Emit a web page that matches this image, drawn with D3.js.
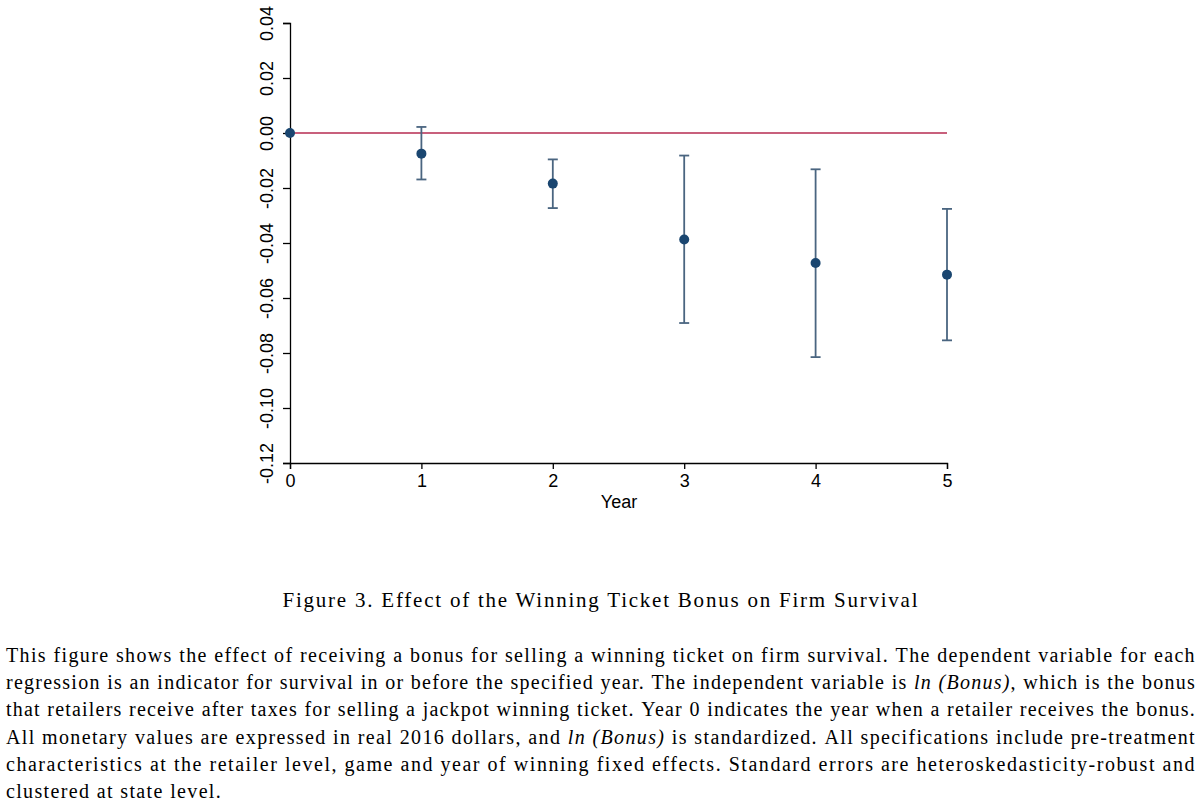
<!DOCTYPE html>
<html>
<head>
<meta charset="utf-8">
<script src="https://cdn.jsdelivr.net/npm/d3@7"></script>
<style>
  html, body { margin: 0; padding: 0; background: #fff; }
  svg { display: block; }
</style>
</head>
<body>
<svg id="chart" width="1200" height="803"></svg>
<script>
// ---- Data ----
const years = [0, 1, 2, 3, 4, 5];
const estimates = [0.0000, -0.0075, -0.0184, -0.0387, -0.0473, -0.0515];
const ciUpper = [null, 0.0022, -0.0096, -0.0082, -0.0132, -0.0276];
const ciLower = [null, -0.0169, -0.0273, -0.0691, -0.0815, -0.0754];
const yTicks = [0.04, 0.02, 0.00, -0.02, -0.04, -0.06, -0.08, -0.10, -0.12];
const xTicks = [0, 1, 2, 3, 4, 5];
const xTitle = "Year";
const caption = "Figure 3. Effect of the Winning Ticket Bonus on Firm Survival";
const noteLines = [
  [["This figure shows the effect of receiving a bonus for selling a winning ticket on firm survival. The dependent variable for each", false]],
  [["regression is an indicator for survival in or before the specified year. The independent variable is ", false], ["ln (Bonus)", true], [", which is the bonus", false]],
  [["that retailers receive after taxes for selling a jackpot winning ticket. Year 0 indicates the year when a retailer receives the bonus.", false]],
  [["All monetary values are expressed in real 2016 dollars, and ", false], ["ln (Bonus)", true], [" is standardized. All specifications include pre-treatment", false]],
  [["characteristics at the retailer level, game and year of winning fixed effects. Standard errors are heteroskedasticity-robust and", false]],
  [["clustered at state level.", false]]
];

const svg = d3.select("#chart");

const x = d3.scaleLinear().domain([0, 5]).range([290, 947]);
const y = d3.scaleLinear().domain([-0.12, 0.04]).range([463, 23]);

const fmt = d => d3.format(".2f")(d).replace("−", "-");
const sans = "Liberation Sans, Arial, sans-serif";

// Y axis
const yAxis = d3.axisLeft(y).tickValues(yTicks).tickSize(7).tickPadding(4).tickFormat(fmt);
const gy = svg.append("g").attr("transform", "translate(290,0)").call(yAxis);
gy.select(".domain").attr("stroke", "#000").attr("stroke-width", 1.3);
gy.selectAll(".tick line").attr("stroke", "#000").attr("stroke-width", 1.3);
gy.selectAll(".tick text")
  .attr("font-family", sans)
  .attr("font-size", 18)
  .attr("fill", "#000")
  .attr("text-anchor", "middle")
  .attr("x", null).attr("dy", null)
  .attr("transform", "translate(-17,0) rotate(-90)");

// X axis
const xAxis = d3.axisBottom(x).tickValues(xTicks).tickSize(6).tickPadding(4).tickFormat(d3.format("d"));
const gx = svg.append("g").attr("transform", "translate(0,463)").call(xAxis);
gx.select(".domain").attr("stroke", "#000").attr("stroke-width", 1.3);
gx.selectAll(".tick line").attr("stroke", "#000").attr("stroke-width", 1.3);
gx.selectAll(".tick text")
  .attr("font-family", sans)
  .attr("font-size", 18)
  .attr("fill", "#000")
  .attr("dy", null)
  .attr("y", 24);

svg.append("text")
  .attr("x", (x(0) + x(5)) / 2 + 0.5)
  .attr("y", 508)
  .attr("text-anchor", "middle")
  .attr("font-family", sans)
  .attr("font-size", 18)
  .text(xTitle);

// Zero reference line
svg.append("line")
  .attr("x1", x(0)).attr("x2", x(5))
  .attr("y1", y(0)).attr("y2", y(0))
  .attr("stroke", "#c8607c").attr("stroke-width", 1.8);

// Error bars
const ciData = years.map((yr, i) => ({yr, lo: ciLower[i], hi: ciUpper[i]})).filter(d => d.lo !== null);
const barColor = "#4a6580";
const eb = svg.append("g");
eb.selectAll("line.v").data(ciData).join("line")
  .attr("x1", d => x(d.yr)).attr("x2", d => x(d.yr))
  .attr("y1", d => y(d.hi)).attr("y2", d => y(d.lo))
  .attr("stroke", barColor).attr("stroke-width", 1.8);
eb.selectAll("line.t").data(ciData).join("line")
  .attr("x1", d => x(d.yr) - 5).attr("x2", d => x(d.yr) + 5)
  .attr("y1", d => y(d.hi)).attr("y2", d => y(d.hi))
  .attr("stroke", barColor).attr("stroke-width", 1.8);
eb.selectAll("line.b").data(ciData).join("line")
  .attr("x1", d => x(d.yr) - 5).attr("x2", d => x(d.yr) + 5)
  .attr("y1", d => y(d.lo)).attr("y2", d => y(d.lo))
  .attr("stroke", barColor).attr("stroke-width", 1.8);

// Points
svg.append("g").selectAll("circle").data(years.map((yr, i) => ({yr, v: estimates[i]}))).join("circle")
  .attr("cx", d => x(d.yr)).attr("cy", d => y(d.v)).attr("r", 5)
  .attr("fill", "#1a4670");

// ---- Caption & notes (serif, widened to mimic Computer Modern) ----
const serif = "Liberation Serif, Times New Roman, serif";
const measure = svg.append("text").attr("font-family", serif).attr("x", -2000).attr("y", -2000);
function runsWidth(runs, size) {
  measure.attr("font-size", size).attr("letter-spacing", 0);
  measure.selectAll("tspan").remove();
  measure.text(null);
  runs.forEach(r => measure.append("tspan").attr("font-style", r.it ? "italic" : "normal").text(r.t));
  return measure.node().getComputedTextLength();
}

// Caption
const capSize = 21;
const capW = runsWidth([{t: caption, it: false}], capSize);
const capTarget = 635;
const capLS = (capTarget - capW) / (caption.length - 1);
svg.append("text")
  .attr("x", 600 - capTarget / 2).attr("y", 607)
  .attr("font-family", serif)
  .attr("font-size", capSize)
  .attr("letter-spacing", capLS)
  .text(caption);

// Justified notes
const noteFont = 20;
const left = 6, right = 1196;
const normalGap = 6.5;
const lineInfo = noteLines.map(segs => {
  const words = [];
  let cur = [];
  segs.forEach(([t, it]) => {
    t.split(" ").forEach((p, i) => {
      if (i > 0) { if (cur.length) words.push(cur); cur = []; }
      if (p !== "") cur.push({t: p, it});
    });
  });
  if (cur.length) words.push(cur);
  const base = words.map(w => runsWidth(w, noteFont));
  const chars = words.map(w => d3.sum(w, r => r.t.length));
  return {words, base, chars};
});
// letter spacing per full line so inter-word gaps are near normal
lineInfo.forEach((L, li) => {
  const nGaps = L.words.length - 1;
  const totalChars = d3.sum(L.chars);
  L.ls = (right - left - d3.sum(L.base) - nGaps * normalGap) / totalChars;
});
const fullLines = lineInfo.slice(0, -1);
const avgLS = d3.mean(fullLines, L => L.ls);
lineInfo[lineInfo.length - 1].ls = avgLS;

const notes = svg.append("g");
lineInfo.forEach((L, li) => {
  const isLast = li === lineInfo.length - 1;
  const widths = L.base.map((b, i) => b + L.chars[i] * L.ls);
  const gap = isLast ? normalGap : (right - left - d3.sum(widths)) / (L.words.length - 1);
  const yb = 662 + li * 27.2;
  const txt = notes.append("text")
    .attr("font-family", serif).attr("font-size", noteFont)
    .attr("letter-spacing", L.ls).attr("y", yb);
  let xpos = left;
  L.words.forEach((w, wi) => {
    w.forEach((r, ri) => {
      const ts = txt.append("tspan").attr("font-style", r.it ? "italic" : "normal").text(r.t);
      if (ri === 0) ts.attr("x", xpos);
    });
    if (wi < L.words.length - 1) txt.append("tspan").text(" ");
    xpos += widths[wi] + gap;
  });
});
measure.remove();
</script>
</body>
</html>
